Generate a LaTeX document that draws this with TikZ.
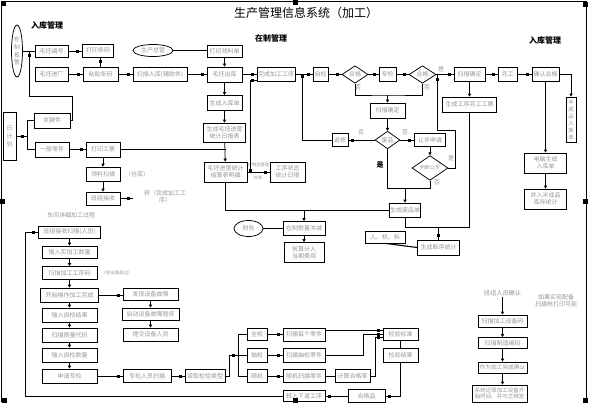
\documentclass[tikz,border=0pt]{standalone}
\usepackage{fontspec}
\setmainfont{Noto Sans CJK SC}
\usetikzlibrary{shapes.geometric,arrows.meta,decorations.markings}
\definecolor{txtgray}{RGB}{150,150,150}
\tikzset{
    every node/.style={inner sep=0.5pt, text=txtgray, font=\fontsize{6}{7}\selectfont},
    box/.style={draw=black, align=center, minimum height=13},
    dia/.style={draw=black, diamond, inner sep=0pt},
    ell/.style={draw=black, ellipse, inner sep=0pt, align=center},
    hd/.style={text=black, font=\fontsize{8}{9}\selectfont\bfseries},
    sqat/.style={postaction={decorate}, decoration={markings, mark=at position #1 with {\fill[black] (-1.5,-1.5) rectangle (1.5,1.5);}}},
    sqend/.style={sqat=-4.5pt},
    tri/.style={-{Triangle[length=3pt,width=3.2pt]}}
}

\begin{document}
\begin{tikzpicture}[x=1pt, y=-1pt, line width=0.75pt]
        \useasboundingbox (0,0) rectangle (589,402);
        % frame and handles
        \draw[line width=1pt] (1.5,402) -- (1.5,1.5) -- (586,1.5) -- (586,402);
        \foreach \hx/\hy in {3/3, 295.5/2.5, 585.5/4.5, 2/201.5, 585.5/201.5, 4.5/400, 295/400, 585.5/400}
                \fill (\hx-2.5,\hy-2.5) rectangle (\hx+2.5,\hy+2.5);
        \node (title) [text=black, font=\fontsize{12}{12}\selectfont] at (306,13) {生产管理信息系统（加工）};
        \node (hd1) [hd] at (47,25) {入库管理};
        \node (hd2) [hd] at (271,38) {在制管理};
        \node (hd3) [hd] at (545,40) {入库管理};

        % blank intake
        \node (zzbj) [ell, minimum width=11, minimum height=52, font=\fontsize{5.8}{7.8}\selectfont] at (17,51) {在\\制\\报\\警};
        \node (mpbh) [box, minimum width=33, minimum height=12] at (51.5,51) {毛坯编号};
        \node (dytm) [box, minimum width=31] at (98,50.5) {打印条码};
        \node (mpjc) [box, minimum width=33, minimum height=14] at (51.5,74.5) {毛坯进厂};
        \node (zttm) [box, minimum width=35, minimum height=14] at (100.5,74.5) {粘贴条码};
        \node (smrk) [box, minimum width=54, minimum height=14] at (160,74.5) {扫描入库(辅助件)};
        \node (sczg) [ell, minimum width=40, minimum height=12] at (153,50.5) {生产总管};
        \node (dyll) [box, minimum width=35, minimum height=12] at (224.5,51) {打印领料单};
        \node (mpck) [box, minimum width=35, minimum height=15] at (224.5,74.5) {毛坯出库};
        \node (wcjg) [box, minimum width=38, minimum height=14] at (276,74.5) {完成加工工序};
        \node (scrk) [box, minimum width=35, minimum height=15] at (224.5,103) {生成入库单};
        \node (rbb) [box, minimum width=42, minimum height=19] at (224.5,132.5) {生成毛坯进度\\统计日报表};
        \node (jsb) [box, minimum width=43, minimum height=20] at (225.5,172) {毛坯进度统计\\结算表明细};
        \node (gxzt) [box, minimum width=35, minimum height=20] at (287.5,172) {工序状态\\统计日报};
        \node (zpgl) [font=\fontsize{4.3}{5}\selectfont] at (258.5,164.5) {在制品管理};
        \node (dz) [font=\fontsize{4.3}{5}\selectfont] at (258,178) {对账};

        % work in process
        \node (zj) [box, minimum width=15, minimum height=14] at (320.5,74.5) {自检};
        \node (hg1) [dia, minimum width=26, minimum height=16] at (355,74.5) {合格};
        \node (zhj) [box, minimum width=17, minimum height=14] at (387.5,74.5) {专检};
        \node (hg2) [dia, minimum width=27, minimum height=16] at (422.5,74.5) {合格};
        \node (smqd1) [box, minimum width=31, minimum height=14] at (469.5,74.5) {扫描确定};
        \node (wg) [box, minimum width=19, minimum height=14] at (507.5,74.5) {完工};
        \node (qrhg) [box, minimum width=27, minimum height=14] at (545.5,74.5) {确认合格};
        \node (gp) [box, minimum width=54, minimum height=15] at (469.5,104.5) {生成工序完工工票};
        \node (bcp) [box, minimum width=10, minimum height=45, font=\fontsize{5.4}{7}\selectfont] at (571,119.5) {半\\成\\品\\入\\库\\单};
        \node (smqd2) [box, minimum width=35, minimum height=15] at (387.5,110.5) {扫描确定};
        \node (fx) [box, minimum width=16, minimum height=13] at (340,140) {返修};
        \node (fp) [dia, minimum width=25, minimum height=15] at (387.5,140) {废品};
        \node (rbsq) [box, minimum width=31, minimum height=13] at (430,140) {让步申请};
        \node (pdrb) [dia, minimum width=36, minimum height=20, font=\fontsize{5}{6}\selectfont] at (430,168) {判断让步};
        \node (fpd) [box, minimum width=31, minimum height=14] at (405,210) {生成废品单};
        \node (rjl) [box, minimum width=40, minimum height=12] at (385,237) {人、机、料};
        \node (dxtj) [box, minimum width=42, minimum height=15] at (438.5,247.5) {生成断序统计};
        \node (dnrk) [box, minimum width=42, minimum height=20] at (545.5,163) {电脑生成\\入库单};
        \node (brbcp) [box, minimum width=42, minimum height=20] at (545.5,199) {并入半成品\\库存统计};
        \foreach \lx/\ly/\lt in {358/87/否, 427/87/否, 361/132/否, 405/132/否, 437/182/否, 441/69/是, 451/158/是}
                \node (lb\lx) at (\lx,\ly) {\lt};
        \node (shi) [text=black, font=\fontsize{7}{8}\selectfont\bfseries] at (380,165) {是};

        % daily plan
        \node (rjh) [box, minimum width=13, minimum height=48, font=\fontsize{5.8}{8}\selectfont] at (9.5,136) {日\\计\\划};
        \node (gjj) [box, minimum width=36, minimum height=15] at (52,120.5) {关键件};
        \node (ybl) [box, minimum width=34, minimum height=15] at (52,149.5) {一般零件};
        \node (dygp) [box, minimum width=34, minimum height=15] at (103,149.5) {打印工票};
        \node (llsm) [box, minimum width=34, minimum height=14] at (103,174) {领料扫描};
        \node (bzjs) [box, minimum width=34, minimum height=13] at (103,198.5) {班组接收};
        \node (ck) at (137,174) {（仓库）};
        \node (zhuan) [align=center] at (165,197) {转（完成加工工\\序）};
        \node (cw) [ell, minimum width=29, minimum height=16] at (248.5,228.5) {财务};
        \node (zzsl) [box, minimum width=42, minimum height=14] at (304,228.5) {在制数量冲减};
        \node (hsjr) [box, minimum width=40, minimum height=20] at (304,252.5) {核算计入\\当期费用};

        % workshop process
        \node (cjgc) at (71,215) {车间详细加工过程};
        \node (bzsm) [box, minimum width=62, minimum height=12] at (69.5,232) {班组接收扫描(人员)};
        \node (srsj) [box, minimum width=55, minimum height=12] at (69.5,252) {输入实加工数量};
        \node (smgx) [box, minimum width=55] at (69.5,273) {扫描加工工序码};
        \node (sbpb) [font=\fontsize{4.4}{5}\selectfont] at (117,273) {（在设备旁边）};
        \node (kscz) [box, minimum width=58, minimum height=14] at (69.5,295) {开始操作加工完成};
        \node (zjjg) [box, minimum width=55, minimum height=14] at (69.5,315) {输入自检结果};
        \node (zldm) [box, minimum width=55, minimum height=14] at (69.5,335) {扫描质量代码};
        \node (zjsl) [box, minimum width=55, minimum height=14] at (69.5,355) {输入自检数量};
        \node (sqzj) [box, minimum width=55, minimum height=14] at (69.5,376) {申请专检};
        \node (fxgz) [box, minimum width=55, minimum height=12] at (150.5,294) {发现设备故障};
        \node (qdgz) [box, minimum width=57, minimum height=12] at (150.5,314) {启动设备故障程序};
        \node (tjsb) [box, minimum width=55, minimum height=13] at (150.5,334.5) {提交设备人员};
        \node (zjry) [box, minimum width=48, minimum height=13] at (147,376) {专检人员扫描};
        \node (dqlx) [box, minimum width=40, minimum height=13] at (205,376) {读取检验类型};
        \node (qj) [box, minimum width=20, minimum height=12] at (257,334.5) {全检};
        \node (cj) [box, minimum width=20, minimum height=14] at (257,355) {抽检};
        \node (sj) [box, minimum width=20, minimum height=13] at (257,376) {随机};
        \node (smmg) [box, minimum width=42, minimum height=13] at (304,334.5) {扫描每个零件};
        \node (smcj) [box, minimum width=42, minimum height=14] at (304,355) {扫描抽检零件};
        \node (sjsm) [box, minimum width=42, minimum height=13] at (304,376) {随机扫描零件};
        \node (jshgl) [box, minimum width=35, minimum height=13] at (352.5,376) {计算合格率};
        \node (jybz) [box, minimum width=35, minimum height=12] at (400.5,334) {检验标准};
        \node (jyjg) [box, minimum width=35, minimum height=14] at (400.5,355) {检验结果};
        \node (hgp) [box, minimum width=37, minimum height=13] at (366.5,396) {合格品};
        \node (zrxd) [box, minimum width=42, minimum height=11] at (304,396) {转入下道工序};

        % team confirmation
        \node (bzqr) [font=\fontsize{6.2}{7}\selectfont] at (502.5,293) {班组人员确认};
        \node (rgsx) [align=center] at (556,301) {如果实现配备\\扫描枪打印可能};
        \node (smsb) [box, minimum width=49, minimum height=12] at (502.5,321) {扫描加工设备码};
        \node (smzz) [box, minimum width=49, minimum height=11] at (502.5,343) {扫描制造编码};
        \node (zwjg) [box, minimum width=49, minimum height=11, font=\fontsize{5.7}{6.6}\selectfont] at (502.5,367.5) {作为加工完成确认};
        \node (xtjl) [box, minimum width=55, minimum height=17, font=\fontsize{5.5}{6.3}\selectfont] at (499.5,393.5) {系统记录加工设备开\\始时间，并与之绑定};

        % junctions
        \coordinate (j1) at (29,51);
        \coordinate (j2) at (250,172);
        \coordinate (j3) at (304,210);
        \coordinate (j4) at (302,74.5);
        \coordinate (j5) at (387.5,95);
        \coordinate (j6) at (437,74.5);
        \coordinate (j7) at (405,188);
        \coordinate (j8) at (438.5,227);
        \coordinate (j9) at (27,136);
        \coordinate (j10) at (133,198.5);
        \coordinate (j11) at (238,355);

        % connectors
        \draw (zzbj.east) -- (mpbh.west);
        \draw[sqend] (gjj.east) -| (72,96) -| (j1);
        \draw[sqend] (mpbh.east) -- (mpbh.east -| dytm.west);
        \draw[sqend] (zttm.north) -- (zttm.north |- dytm.south);
        \draw[sqend] (mpjc) -- (zttm);
        \draw[sqend] (zttm) -- (smrk);
        \draw[sqend] (smrk) -- (mpck);
        \draw (sczg.east) -- (sczg.east -| dyll.west);
        \draw[tri] (dyll) -- (mpck);
        \draw[sqend] (mpck) -- (wcjg);
        \draw[tri] (mpck) -- (scrk);
        \draw[tri] (scrk) -- (rbb);
        \draw[tri] (rbb) -- (jsb);
        \draw (dygp.east) -- (dygp.east -| jsb.north);
        \draw[sqend] (jsb) -- (gxzt);
        \draw[{Square[length=3pt,width=3pt]}-, sqend] (j2) |- (wcjg.west |- 0,80);
        \draw (jsb.south) |- (fpd.west);
        \draw[tri] (j3) -- (zzsl.north);
        \draw (cw) -- (zzsl);
        \draw[tri] (zzsl) -- (hsjr);

        \draw[sqend] (wcjg) -- (zj);
        \draw[sqend] (zj) -- (hg1);
        \draw[sqend] (hg1) -- (zhj);
        \draw[sqend] (zhj) -- (hg2);
        \draw[sqend] (hg2) -- (smqd1);
        \draw[sqend] (smqd1) -- (wg);
        \draw[sqend] (wg) -- (qrhg);
        \draw[tri] (qrhg.east) -| (bcp.north);
        \draw[tri] (smqd1) -- (gp);
        \draw[tri] (qrhg) -- (dnrk);
        \draw[tri] (dnrk) -- (brbcp);
        \draw (hg1.south) |- (j5) -| (hg2.south);
        \draw[tri] (j5) -- (smqd2.north);
        \draw[tri] (smqd2) -- (fp);
        \draw[sqend] (fp) -- (fx);
        \draw[sqend] (fp) -- (rbsq);
        \draw[-{Square[length=3pt,width=3pt]}] (fx.west) -| (j4);
        \draw[tri] (rbsq) -- (pdrb);
        \draw[sqend] (pdrb.east) -- (455,168) |- (437,130) -- (j6);
        \draw (fp.south) |- (j7);
        \draw (pdrb.south) |- (j7);
        \draw[tri] (j7) -- (fpd.north);
        \draw (fpd.south) |- (j8);
        \draw (gp.south) |- (j8);
        \draw[sqend] (j8) -- (dxtj.north);
        \draw[line width=1.1pt] (rjl.south) -- (dxtj.west);

        \draw[sqat=6pt] (rjh.east) -- (j9);
        \draw (gjj.west) -| (j9);
        \draw (ybl.west) -| (j9);
        \draw[sqend] (ybl) -- (dygp);
        \draw[tri] (dygp) -- (llsm);
        \draw[tri] (llsm) -- (bzjs);
        \draw[sqat=8pt] (bzjs.east) -- (j10);

        \draw[sqend] (zrxd.west) -| (25,232) -- (bzsm.west);
        \foreach \a/\b in {bzsm/srsj, srsj/smgx, smgx/kscz, kscz/zjjg, zjjg/zldm, zldm/zjsl, zjsl/sqzj}
                \draw[tri] (\a) -- (\b);
        \draw[sqend] (kscz.east) -- (kscz.east -| fxgz.west);
        \draw[tri] (fxgz) -- (qdgz);
        \draw[tri] (qdgz) -- (tjsb);
        \draw[sqend] (sqzj) -- (zjry);
        \draw[sqend] (zjry) -- (dqlx);
        \draw[sqend] (dqlx.east) -| (229,355) -- (j11);
        \draw (qj.west) -| (j11);
        \draw (sj.west) -| (j11);
        \draw (j11) -- (cj.west);
        \draw[sqend] (qj) -- (smmg);
        \draw[sqend] (cj) -- (smcj);
        \draw[sqend] (sj) -- (sjsm);
        \draw (sjsm) -- (jshgl);
        \draw[sqend] (smmg.east |- 0,330.5) -- (jybz.west |- 0,330.5);
        \draw[sqend] (smcj.east) -| (363,334) -- (jybz.west |- 0,334);
        \draw[sqend] (jshgl.east) -| (375,337.5) -- (jybz.west |- 0,337.5);
        \draw (jybz) -- (jyjg);
        \draw[sqend] (jyjg.south) |- (hgp.east);
        \draw[sqend] (hgp) -- (zrxd);

        \draw[tri] (bzqr) -- (smsb);
        \draw[tri] (smsb) -- (smzz);
        \draw[tri] (smzz) -- (zwjg);
        \draw[tri] (zwjg.south) -- (zwjg.south |- xtjl.north);
\end{tikzpicture}
\end{document}
